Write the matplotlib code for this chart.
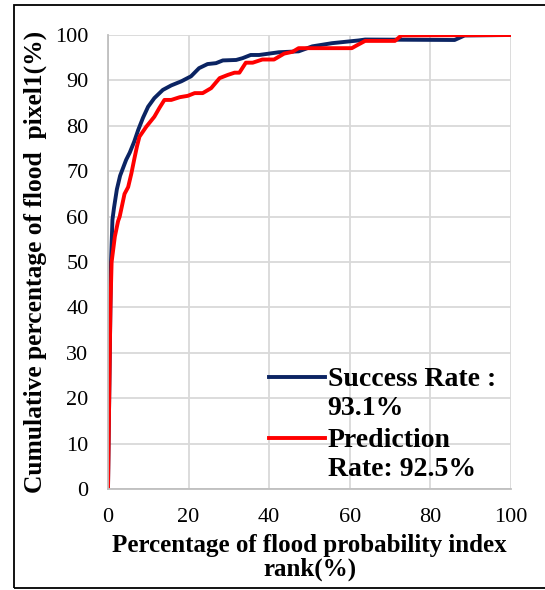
import matplotlib
matplotlib.use("Agg")
import matplotlib.pyplot as plt
from matplotlib.patches import Rectangle

# success-rate curve (training pixels)
success_x = [0, 0.3, 0.6, 0.75, 1.1, 1.5, 2.2, 3.0, 3.6, 4.5, 5.4, 6.5, 7.5, 8.7,
             9.95, 11.5, 13.6, 15.7, 18.2, 19.5, 20.6, 22.6, 24.7, 26.8, 28.5,
             31.8, 33.4, 35.4, 37.5, 42.4, 47.3, 50.7, 55.6, 60.0, 62.2, 63.8,
             86.0, 88.5, 100]
success_y = [0, 20, 40, 50, 59.3, 62, 66, 69, 70.4, 72.5, 74.1, 76.5, 79.1, 81.8,
             84.2, 86.1, 87.9, 88.9, 89.8, 90.4, 90.9, 92.7, 93.6, 93.8, 94.4,
             94.5, 94.9, 95.6, 95.6, 96.2, 96.4, 97.5, 98.2, 98.6, 98.8, 99.0,
             98.9, 99.9, 100]

# prediction-rate curve (validation pixels)
pred_x = [0, 0.3, 0.6, 0.9, 1.7, 2.5, 2.9, 4.1, 5.0, 5.8, 6.6, 7.2, 7.8, 9.5,
          11.5, 12.8, 14.0, 15.7, 17.8, 19.8, 21.5, 23.5, 25.6, 27.7, 29.7,
          31.4, 32.6, 34.2, 35.9, 38.3, 41.2, 43.7, 45.8, 47.3, 60.5, 61.5,
          63.8, 71.2, 72.8, 100]
pred_y = [0, 20, 40, 50, 55.6, 59, 60, 65, 66.5, 69.5, 73, 75.5, 77.6, 79.8,
          82.0, 84.0, 85.7, 85.7, 86.3, 86.6, 87.2, 87.2, 88.3, 90.5, 91.2,
          91.7, 91.7, 93.9, 93.9, 94.6, 94.6, 95.9, 96.3, 97.1, 97.1, 97.6,
          98.7, 98.7, 99.9, 100]

ticks = [0, 20, 40, 60, 80, 100]
yticks = list(range(0, 101, 10))

plt.rcParams["font.family"] = ["Liberation Serif", "DejaVu Serif"]

fig = plt.figure(figsize=(5.45, 5.90), dpi=100)
ax = fig.add_axes([108 / 545, 1 - 489 / 590, 403 / 545, 454 / 590])

ax.plot(success_x, success_y, color="#0b2463", lw=2.8,
        label="Success Rate :\n93.1%", solid_joinstyle="round")
ax.plot(pred_x, pred_y, color="#ff0000", lw=2.8,
        label="Prediction\nRate: 92.5%", solid_joinstyle="round")

ax.set_xlim(0, 100)
ax.set_ylim(0, 100)
ax.set_xticks(ticks)
ax.set_yticks(yticks)
ax.tick_params(length=0, labelsize=16, pad=14)
ax.grid(color="#d9d9d9", lw=1.3)
ax.set_axisbelow(True)
for s in ["top", "right"]:
    ax.spines[s].set_visible(False)
for s in ["left", "bottom"]:
    ax.spines[s].set_color("#bfbfbf")
    ax.spines[s].set_linewidth(1.3)

ax.set_xlabel("Percentage of flood probability index\nrank(%)",
              fontsize=18, fontweight="bold", labelpad=5, linespacing=1.0)
ax.set_ylabel("Cumulative percentage of flood  pixel1(%)",
              fontsize=18.4, fontweight="bold", labelpad=6)

leg = ax.legend(loc="upper left", bbox_to_anchor=(0.40, 0.268), frameon=False,
                prop={"size": 20, "weight": "bold"}, handlelength=2.0,
                handletextpad=0.1, labelspacing=0.25, borderaxespad=0,
                borderpad=0)
# put each legend line level with the first text line, as in the original
for col in leg._legend_handle_box.get_children():
    for item in col.get_children():
        item.align = "top"

# outer frame around the figure
fig.patches.append(Rectangle((14 / 545, 2 / 590), 1.0, 583 / 590,
                             transform=fig.transFigure, fill=False,
                             edgecolor="black", lw=1.3))

fig.savefig("out.png", dpi=100)
